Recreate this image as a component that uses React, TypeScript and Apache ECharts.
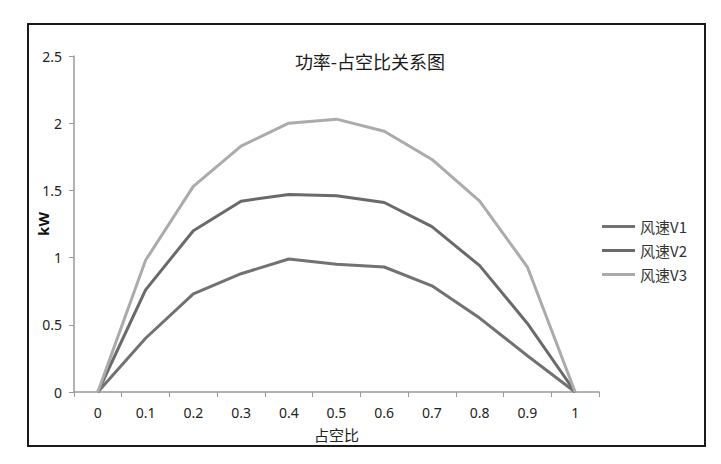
import React, { useEffect, useRef } from "react";
import * as echarts from "echarts";

const categories = ["0", "0.1", "0.2", "0.3", "0.4", "0.5", "0.6", "0.7", "0.8", "0.9", "1"];
const seriesNames = ["风速V1", "风速V2", "风速V3"];
const v1 = [0, 0.4, 0.73, 0.88, 0.99, 0.95, 0.93, 0.79, 0.55, 0.27, 0];
const v2 = [0, 0.76, 1.2, 1.42, 1.47, 1.46, 1.41, 1.23, 0.94, 0.51, 0];
const v3 = [0, 0.98, 1.53, 1.83, 2.0, 2.03, 1.94, 1.73, 1.42, 0.93, 0];
const colors = ["#727272", "#6a6a6a", "#ababab"];

export default function App() {
  const ref = useRef<HTMLDivElement>(null);
  useEffect(() => {
    if (!ref.current) return;
    const chart = echarts.init(ref.current, null, { renderer: "svg" });
    const data = [v1, v2, v3];
    chart.setOption({
      animation: false,
      backgroundColor: "#ffffff",
      title: {
        text: "功率-占空比关系图",
        left: 365,
        top: 47,
        textAlign: "center",
        textStyle: { fontFamily: "Noto Sans CJK SC", fontSize: 18, fontWeight: "normal", color: "#1a1a1a" },
      },
      legend: {
        orient: "vertical",
        left: 597,
        top: 214,
        icon: "rect",
        itemWidth: 33,
        itemHeight: 3,
        itemGap: 9,
        data: seriesNames,
        textStyle: { fontFamily: "Noto Sans CJK SC", fontSize: 15, color: "#333" },
      },
      grid: { left: 74, right: 122, top: 56, bottom: 72 },
      xAxis: {
        type: "category",
        data: categories,
        boundaryGap: true,
        name: "占空比",
        nameLocation: "middle",
        nameGap: 35,
        nameTextStyle: { fontFamily: "Noto Sans CJK SC", fontSize: 15, color: "#222" },
        axisLine: { lineStyle: { color: "#999", width: 1.5 } },
        axisTick: { show: true, length: 5, lineStyle: { color: "#999" }, alignWithLabel: false },
        axisLabel: { margin: 13, fontFamily: "Noto Sans", fontSize: 14, color: "#222" },
        splitLine: { show: false },
      },
      yAxis: {
        type: "value",
        min: 0,
        max: 2.5,
        interval: 0.5,
        name: "kW",
        nameLocation: "middle",
        nameRotate: 90,
        nameGap: 24,
        nameMoveOverlap: false,
        nameTextStyle: { fontFamily: "Noto Sans", fontSize: 15, fontWeight: "bold", color: "#111" },
        axisLine: { show: true, lineStyle: { color: "#999", width: 1.5 } },
        axisTick: { show: true, length: 5, lineStyle: { color: "#999" } },
        axisLabel: { margin: 12, fontFamily: "Noto Sans", fontSize: 14, color: "#222" },
        splitLine: { show: false },
      },
      graphic: [
        {
          type: "rect",
          shape: { x: 28, y: 24, width: 677, height: 422 },
          style: { fill: "none", stroke: "#1a1a1a", lineWidth: 2 },
          z: 100,
        },
      ],
      series: seriesNames.map((name, i) => ({
        name,
        type: "line",
        data: data[i],
        symbol: "none",
        lineStyle: { color: colors[i], width: 3 },
        itemStyle: { color: colors[i] },
      })),
    });
    return () => chart.dispose();
  }, []);
  return <div ref={ref} style={{ width: 721, height: 464, position: "absolute", left: 0, top: 0 }} />;
}
